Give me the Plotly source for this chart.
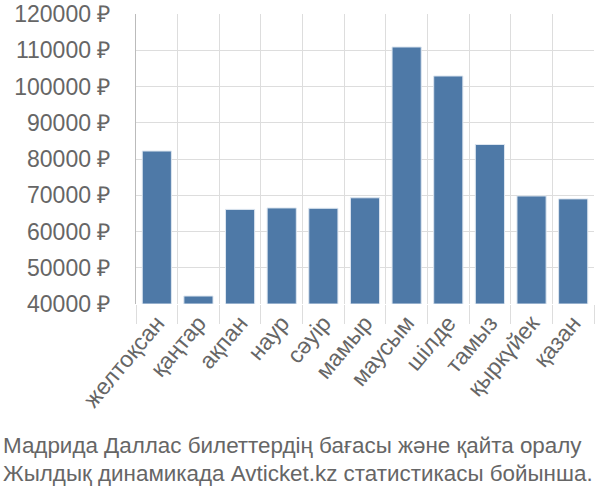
import plotly.graph_objects as go

# monthly average ticket price, rubles
months = ["желтоқсан", "қаңтар", "ақпан", "наур", "сәуір", "мамыр",
          "маусым", "шілде", "тамыз", "қыркүйек", "қазан"]
prices = [82200, 42200, 66100, 66500, 66400, 69300,
          110900, 102900, 84000, 69800, 69000]

y_ticks = list(range(40000, 120001, 10000))
y_labels = [f"{v} ₽" for v in y_ticks]

caption_lines = ["Мадрида Даллас билеттердің бағасы және қайта оралу",
                 "Жылдық динамикада Avticket.kz статистикасы бойынша."]

font_family = "Liberation Sans, Arial, sans-serif"
text_grey = "#666666"
grid_grey = "#dddddd"

# plot area in pixels (page is 600x500)
left, right, top, bottom = 136, 594, 14, 304


def px_to_paper_x(px):
    return (px - left) / (right - left)


def px_to_paper_y(py):
    return (bottom - py) / (bottom - top)


fig = go.Figure()
fig.add_trace(
    go.Bar(
        x=months,
        y=[p - 40000 for p in prices],
        base=40000,
        marker=dict(color="#4e79a7", line=dict(color="#dde6f0", width=1)),
        width=0.7,
        hoverinfo="skip",
    )
)

fig.update_layout(
    width=600,
    height=500,
    margin=dict(l=left, r=600 - right, t=top, b=500 - bottom),
    paper_bgcolor="white",
    plot_bgcolor="white",
    showlegend=False,
    font=dict(family=font_family, color=text_grey, size=22),
    xaxis=dict(
        type="category",
        tickson="boundaries",
        showgrid=True,
        gridcolor=grid_grey,
        gridwidth=1,
        ticks="outside",
        ticklen=19,
        tickcolor=grid_grey,
        tickangle=-50,
        tickfont=dict(size=23, color=text_grey),
        showline=False,
        zeroline=False,
        automargin=False,
    ),
    yaxis=dict(
        range=[40000, 120000],
        tickvals=y_ticks,
        ticktext=y_labels,
        showgrid=True,
        gridcolor=grid_grey,
        gridwidth=1,
        ticks="",
        ticklabelstandoff=20,
        tickfont=dict(size=23, color=text_grey),
        showline=True,
        linecolor="#bbbbbb",
        linewidth=1,
        zeroline=False,
        automargin=False,
    ),
)

for i, line in enumerate(caption_lines):
    fig.add_annotation(
        text=line,
        x=px_to_paper_x(1),
        y=px_to_paper_y(446 + 27 * i),
        xref="paper",
        yref="paper",
        xanchor="left",
        yanchor="middle",
        showarrow=False,
        font=dict(size=22.4, color=text_grey),
    )

# the page body has a default margin; drop it so the figure sits at 0,0
fig.write_html(
    "out.html",
    config={"displayModeBar": False},
    post_script="document.body.style.margin='0';",
)
